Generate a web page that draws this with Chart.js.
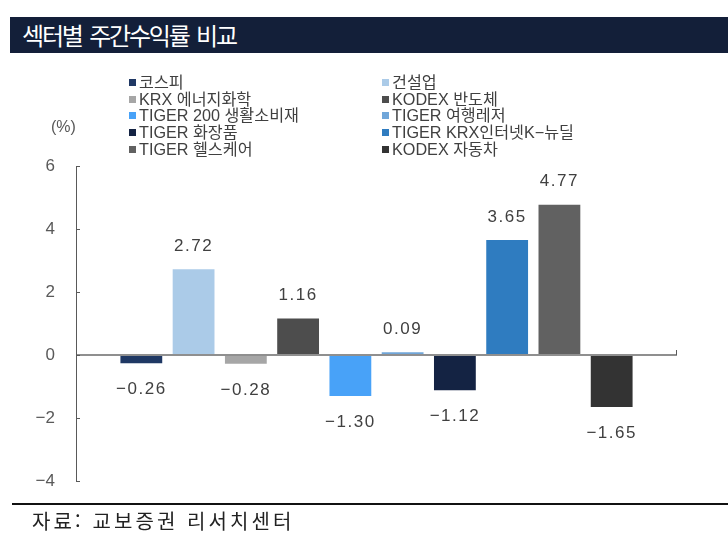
<!DOCTYPE html>
<html lang="ko">
<head>
<meta charset="utf-8">
<script src="https://cdn.jsdelivr.net/npm/chart.js@4/dist/chart.umd.min.js"></script>
<style>
  html, body { margin: 0; padding: 0; background: #fff; }
  body { width: 728px; height: 553px; position: relative; overflow: hidden;
         font-family: "Liberation Sans", "Noto Sans CJK KR", sans-serif; }
  #title { position: absolute; left: 10px; top: 17px; width: 718px; height: 36px;
           background: #131f39; color: #fff; font-family: "Noto Sans CJK KR", sans-serif;
           font-size: 24px; line-height: 35px; padding-left: 12px; box-sizing: border-box;
           letter-spacing: -2.2px; word-spacing: 3px; }
  #wrap { position: absolute; left: 0; top: 0; width: 728px; height: 553px; }
  #unit { position: absolute; left: 51px; top: 118px; font-size: 16px; color: #595959; }
  #legend { position: absolute; left: 129px; top: 74px; width: 520px;
            display: grid; grid-template-columns: 253px 253px; row-gap: 0; }
  .item { height: 16.7px; line-height: 16.7px; font-size: 16.2px; color: #404040;
          white-space: nowrap; display: flex; align-items: center; }
  .box { width: 7px; height: 7px; margin-right: 3px; flex: none; }
  #rule { position: absolute; left: 12px; top: 503px; width: 716px; height: 2px; background: #111; }
  #source { position: absolute; left: 32px; top: 506px; font-family: "Noto Sans CJK KR", sans-serif;
            font-size: 20px; color: #222; letter-spacing: 3.1px; }
</style>
</head>
<body>
<div id="wrap"><canvas id="sectorChart"></canvas></div>
<div id="title">섹터별 주간수익률 비교</div>
<div id="legend"></div>
<div id="unit">(%)</div>
<div id="rule"></div>
<div id="source">자료: 교보증권 리서치센터</div>
<script>
const categories = ['코스피', '건설업', 'KRX 에너지화학', 'KODEX 반도체', 'TIGER 200 생활소비재',
                    'TIGER 여행레저', 'TIGER 화장품', 'TIGER KRX인터넷K−뉴딜', 'TIGER 헬스케어', 'KODEX 자동차'];
const returns = [-0.26, 2.72, -0.28, 1.16, -1.30, 0.09, -1.12, 3.65, 4.77, -1.65];
const colors = ['#1f3864', '#abcbe8', '#a6a6a6', '#4d4d4d', '#48a2f8',
                '#70a6d9', '#142343', '#2f7cc0', '#616161', '#333333'];
const yTicks = [-4, -2, 0, 2, 4, 6];

const FONT = '"Liberation Sans", "Noto Sans CJK KR", sans-serif';
const fmt = v => (v < 0 ? '\u2212' : '') + Math.abs(v).toFixed(2);

// legend (2 columns, row order)
const legendEl = document.getElementById('legend');
categories.forEach((name, i) => {
    const it = document.createElement('div');
    it.className = 'item';
    it.innerHTML = `<span class="box" style="background:${colors[i]}"></span>${name}`;
    legendEl.appendChild(it);
});

// value labels above/below bars
const valueLabels = {
    id: 'valueLabels',
    afterDatasetsDraw(chart) {
        const ctx = chart.ctx;
        const meta = chart.getDatasetMeta(0);
        ctx.save();
        ctx.font = '17px ' + FONT;
        ctx.fillStyle = '#404040';
        ctx.textAlign = 'center';
        ctx.textBaseline = 'middle';
        if ('letterSpacing' in ctx) ctx.letterSpacing = '1.5px';
        meta.data.forEach((bar, i) => {
            const v = returns[i];
            const y = v >= 0 ? bar.y - 23 : bar.y + 26;
            ctx.fillText(fmt(v), bar.x, y);
        });
        ctx.restore();
    }
};

// small inward ticks on the y axis and end tick on the zero line
const axisMarks = {
    id: 'axisMarks',
    afterDraw(chart) {
        const ctx = chart.ctx;
        const y = chart.scales.y;
        const area = chart.chartArea;
        ctx.save();
        ctx.strokeStyle = '#595959';
        ctx.lineWidth = 1;
        ctx.beginPath();
        yTicks.forEach(t => {
            const py = Math.round(y.getPixelForValue(t)) + 0.5;
            ctx.moveTo(area.left, py);
            ctx.lineTo(area.left + 4, py);
        });
        const z = y.getPixelForValue(0);
        ctx.moveTo(area.right - 0.5, z);
        ctx.lineTo(area.right - 0.5, z - 5);
        ctx.stroke();
        ctx.restore();
    }
};

new Chart(document.getElementById('sectorChart'), {
    type: 'bar',
    data: {
        datasets: [{
            data: returns.map((v, i) => ({ x: i, y: v })),
            backgroundColor: colors,
            barPercentage: 1,
            categoryPercentage: 0.8
        }]
    },
    options: {
        responsive: true,
        maintainAspectRatio: false,
        animation: false,
        layout: { padding: { left: 0, right: 51, top: 166, bottom: 72 } },
        plugins: { legend: { display: false }, tooltip: { enabled: false } },
        scales: {
            x: { type: 'linear', min: -1.25, max: 10.25, offset: false, grid: { offset: false }, display: false },
            y: {
                min: -4, max: 6,
                afterBuildTicks: s => { s.ticks = yTicks.map(v => ({ value: v })); },
                afterFit: s => { s.width = 76; },
                ticks: {
                    color: '#595959',
                    font: { size: 17, family: FONT },
                    padding: 21,
                    callback: v => (v < 0 ? '\u2212' : '') + Math.abs(v)
                },
                grid: {
                    drawTicks: false,
                    lineWidth: 2,
                    color: c => (c.tick && c.tick.value === 0) ? '#8f8f8f' : 'rgba(0,0,0,0)'
                },
                border: { color: '#595959', width: 1 }
            }
        }
    },
    plugins: [valueLabels, axisMarks]
});
</script>
</body>
</html>
